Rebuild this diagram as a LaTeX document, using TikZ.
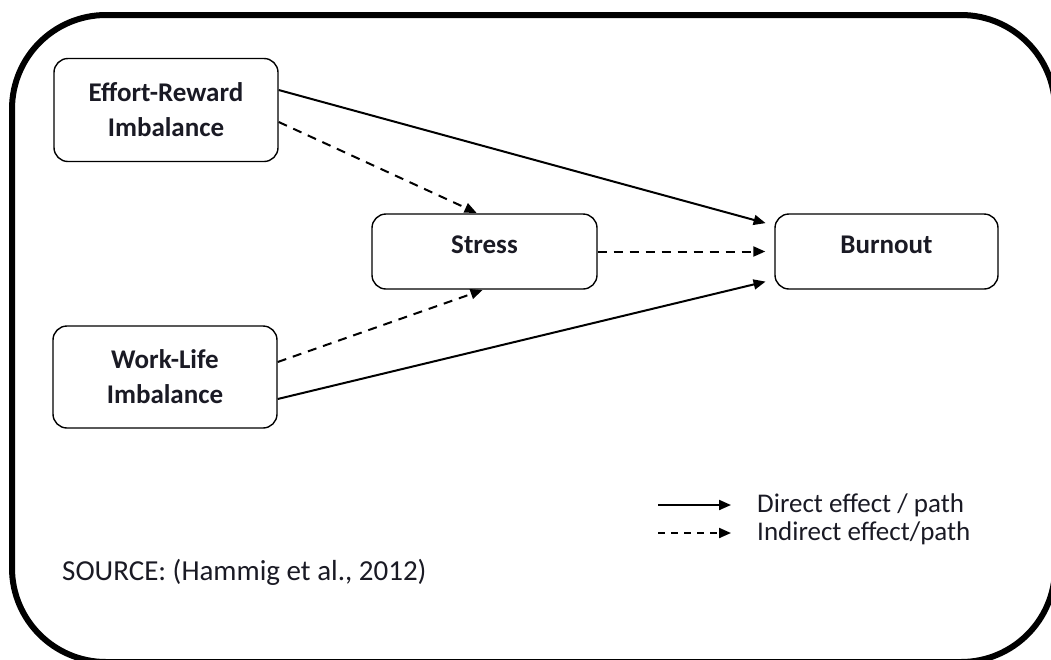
\documentclass[tikz,border=0pt]{standalone}
\usepackage{fontspec}
\setmainfont{Carlito}
\usetikzlibrary{arrows.meta}
\definecolor{ink}{HTML}{1A1A24}
\tikzset{
  box/.style={draw=black, line width=1.4pt, rounded corners=14pt, fill=white,
    align=center, font=\bfseries\fontsize{27}{35}\selectfont, text=ink, inner sep=0pt},
  direct/.style={line width=2pt, -{Triangle[length=12pt,width=10pt]}},
  indirect/.style={direct, dash pattern=on 9pt off 7pt},
  plaintext/.style={text=ink, anchor=west, inner sep=0pt},
  legendtext/.style={plaintext, font=\fontsize{27}{30}\selectfont},
  sourcetext/.style={plaintext, font=\fontsize{29}{32}\selectfont}
}
\begin{document}
\begin{tikzpicture}[x=1pt, y=-1pt]
  \useasboundingbox (0,0) rectangle (1051,659);
  \begin{scope}
    \clip (0,0) rectangle (1051,659);
    % outer frame, partly running off the page on the right and bottom
    \draw[line width=6pt, rounded corners=94pt] (12,15) rectangle (1055,662);
  \end{scope}

  % variables
  \node[box, minimum width=224pt, minimum height=103pt] (er) at (166,110) {Effort-Reward\\Imbalance};
  \node[box, minimum width=224pt, minimum height=102pt] (wl) at (165,377) {Work-Life\\Imbalance};
  \node[box, minimum width=225pt, minimum height=75pt, text depth=14pt] (st) at (484.5,251.5) {Stress};
  \node[box, minimum width=223pt, minimum height=75pt, text depth=14pt] (bo) at (886.5,251.5) {Burnout};

  % direct paths
  \draw[direct, shorten >=9pt] ([yshift=20pt]er.east) -- ([yshift=26pt]bo.west);
  \draw[direct, shorten >=9pt] ([yshift=-22pt]wl.east) -- ([yshift=-28pt]bo.west);

  % indirect paths
  \draw[indirect, shorten >=1pt] ([yshift=-12pt]er.east) -- ([xshift=-7pt]st.north);
  \draw[indirect, shorten >=1pt] ([yshift=15pt]wl.east) -- ([xshift=-1pt]st.south);
  \draw[indirect, shorten >=9pt] (st.east) -- (bo.west);

  % legend
  \coordinate (ls1) at (658,505);
  \coordinate (le1) at (731,505);
  \coordinate (ls2) at (658,533);
  \coordinate (le2) at (731,533);
  \draw[direct] (ls1) -- (le1);
  \draw[indirect, dash pattern=on 7pt off 6pt] (ls2) -- (le2);
  \node[legendtext] (lt1) at (757,505) {Direct effect / path};
  \node[legendtext] (lt2) at (757,533) {Indirect effect/path};

  % source note
  \node[sourcetext] (src) at (62,572) {SOURCE: (Hammig et al., 2012)};
\end{tikzpicture}
\end{document}
